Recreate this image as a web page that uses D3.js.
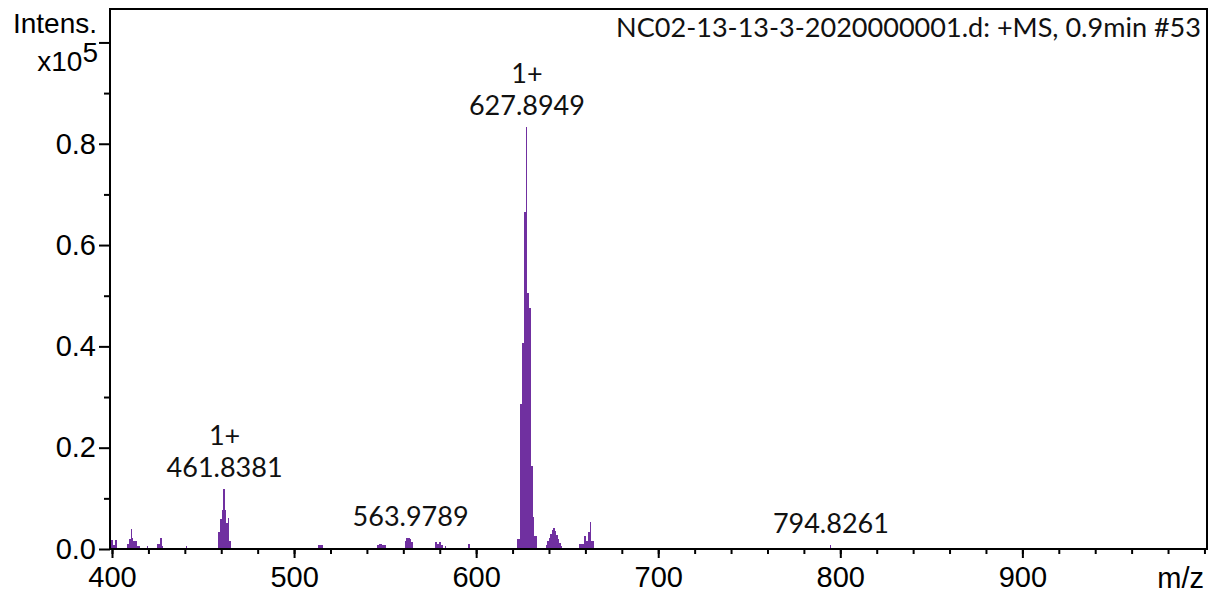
<!DOCTYPE html>
<html>
<head>
<meta charset="utf-8">
<script src="https://cdn.jsdelivr.net/npm/d3@7"></script>
<style>
  body { margin: 0; background: #fff; }
  svg { display: block; }
  .axis text { font-family: "Liberation Sans", Arial, sans-serif; font-size: 29px; fill: #000; }
  .axis path { display: none; }
  .axis line { stroke: #000; stroke-width: 2px; }
  .lbl { font-family: "Liberation Sans", Arial, sans-serif; font-size: 28px; fill: #000; }
  .note { font-family: Lato, "Open Sans", sans-serif; font-size: 27px; fill: #111; }
</style>
</head>
<body>
<svg id="spectrum" width="1218" height="597"></svg>
<script>
// profile spectrum, intensity in units of 1e5 (step after each m/z)
var mz = [
  399.2, 400.5, 401.5, 402.9,
  408.4, 409.5, 410.4, 411.1, 411.7, 413.6, 415.4,
  419.0, 419.8,
  424.5, 426.4, 427.3, 428.2,
  440.6, 441.4,
  458.0, 459.3, 460.4, 461.2, 462.0, 462.8, 463.6, 464.4, 465.3,
  513.3, 516.0,
  545.3, 546.5, 548.5, 550.4,
  560.9, 561.7, 563.5, 564.2, 565.4,
  577.3, 578.5, 579.5, 580.8, 581.9, 582.8, 583.7,
  595.3, 596.6,
  622.2, 624.0, 625.1, 626.2, 627.2, 627.9, 628.8, 629.9, 631.0, 631.7, 633.2,
  638.1, 639.1, 640.0, 640.8, 641.6, 642.4, 643.2, 644.1, 644.9, 645.7, 646.5, 647.3,
  656.4, 659.1, 660.2, 661.3, 662.4, 663.1, 664.8,
  794.5, 795.1
];
var intensity = [
  0.017, 0.008, 0.017, 0,
  0.010, 0.020, 0.040, 0.022, 0.015, 0.005, 0,
  0.005, 0,
  0.010, 0.021, 0.006, 0,
  0.005, 0,
  0.033, 0.059, 0.077, 0.119, 0.077, 0.052, 0.061, 0.016, 0,
  0.008, 0,
  0.008, 0.010, 0.008, 0,
  0.015, 0.022, 0.020, 0.013, 0,
  0.013, 0.010, 0.013, 0.008, 0, 0.005, 0,
  0.010, 0,
  0.020, 0.286, 0.406, 0.665, 0.833, 0.506, 0.475, 0.163, 0.063, 0.025, 0,
  0.008, 0.015, 0.022, 0.030, 0.037, 0.041, 0.036, 0.028, 0.020, 0.012, 0.006, 0,
  0.010, 0.025, 0.015, 0.033, 0.054, 0.016, 0,
  0.008, 0
];

var peakMz = [461.8381, 563.9789, 627.8949, 794.8261];
var peakCharge = ["1+", "", "1+", ""];

var xMajor = [400, 500, 600, 700, 800, 900];
var xMinor = d3.range(400, 1001, 20);
var yMajor = [0, 0.2, 0.4, 0.6, 0.8, 1.0];
var yMajorLabels = ["0.0", "0.2", "0.4", "0.6", "0.8", ""];
var yMinor = d3.range(0.1, 1.01, 0.2);

var title = "NC02-13-13-3-2020000001.d: +MS, 0.9min #53";

var plot = { left: 110, top: 9, right: 1207, bottom: 549 };
var purple = "#7030a0";

var svg = d3.select("#spectrum");

var x = d3.scaleLinear().domain([398.9, 1001.4]).range([plot.left, plot.right]);
var y = d3.scaleLinear().domain([0, 1.066]).range([plot.bottom, plot.top]);

var points = mz.map(function(m, i) { return { mz: m, v: intensity[i] }; });

// spectrum fill
var area = d3.area()
  .curve(d3.curveStepAfter)
  .x(function(d) { return x(d.mz); })
  .y0(y(0))
  .y1(function(d) { return y(d.v); });

svg.append("path")
  .datum(points)
  .attr("d", area)
  .attr("fill", purple)
  .attr("shape-rendering", "crispEdges");

// axes: minor ticks first, then labelled majors
svg.append("g")
  .attr("class", "axis")
  .attr("transform", "translate(0," + plot.bottom + ")")
  .call(d3.axisBottom(x).tickValues(xMinor).tickSize(5).tickFormat(""));

svg.append("g")
  .attr("class", "axis")
  .attr("transform", "translate(0," + plot.bottom + ")")
  .call(d3.axisBottom(x).tickValues(xMajor).tickSize(9).tickPadding(8).tickFormat(d3.format("d")));

svg.append("g")
  .attr("class", "axis")
  .attr("transform", "translate(" + plot.left + ",0)")
  .call(d3.axisLeft(y).tickValues(yMinor).tickSize(6).tickFormat(""));

svg.append("g")
  .attr("class", "axis")
  .attr("transform", "translate(" + plot.left + ",0)")
  .call(d3.axisLeft(y).tickValues(yMajor).tickSize(11).tickPadding(3)
    .tickFormat(function(d, i) { return yMajorLabels[i]; }));

// frame
svg.append("rect")
  .attr("x", plot.left)
  .attr("y", plot.top)
  .attr("width", plot.right - plot.left)
  .attr("height", plot.bottom - plot.top)
  .attr("fill", "none")
  .attr("stroke", "#000")
  .attr("stroke-width", 2);

// axis titles
svg.append("text").attr("class", "lbl")
  .attr("x", 97).attr("y", 33).attr("text-anchor", "end")
  .text("Intens.");

var exp = svg.append("text").attr("class", "lbl")
  .attr("x", 98).attr("y", 71).attr("text-anchor", "end");
exp.append("tspan").text("x10");
exp.append("tspan").attr("dy", -9).text("5");

svg.append("text").attr("class", "lbl")
  .attr("x", 1204).attr("y", 588).attr("text-anchor", "end")
  .style("font-size", "29px")
  .text("m/z");

// spectrum title, sized to its slot
var t = svg.append("text").attr("class", "note")
  .attr("x", 1201).attr("y", 37).attr("text-anchor", "end")
  .text(title);
var tw = t.node().getComputedTextLength();
t.style("font-size", (27 * 585 / tw) + "px");

// peak annotations sit above the local maximum
var notes = svg.selectAll("g.peak")
  .data(peakMz)
  .enter()
  .append("g")
  .classed("peak", true)
  .attr("transform", function(m) {
    var top = d3.max(points, function(d) { return Math.abs(d.mz - m) < 2.5 ? d.v : 0; });
    return "translate(" + x(m) + "," + (y(top) - 12) + ")";
  });

notes.append("text")
  .attr("class", "note")
  .attr("text-anchor", "middle")
  .text(function(m) { return m.toFixed(4); });

notes.append("text")
  .attr("class", "note")
  .attr("text-anchor", "middle")
  .attr("y", -32)
  .text(function(m, i) { return peakCharge[i]; });
</script>
</body>
</html>
